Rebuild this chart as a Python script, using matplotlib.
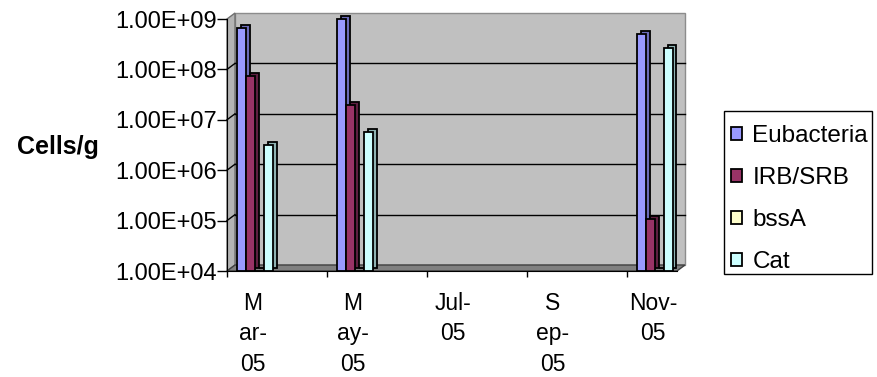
import matplotlib
matplotlib.use('Agg')
import matplotlib.pyplot as plt
import matplotlib.patches as mpatches
from matplotlib.transforms import offset_copy
import numpy as np

plt.rcParams['font.family'] = ['Liberation Sans', 'DejaVu Sans']

# sampling months and measured abundances (cells per gram)
months = ['M\nar-\n05', 'M\nay-\n05', 'Jul-\n05', 'S\nep-\n05', 'Nov-\n05']
eubacteria = [6.5e8, 1.0e9, np.nan, np.nan, 5.0e8]
irb_srb = [7.5e7, 2.0e7, np.nan, np.nan, 1.1e5]
bssa = [1.0e4, 1.0e4, np.nan, np.nan, 1.0e4]
cat = [3.2e6, 5.8e6, np.nan, np.nan, 2.6e8]

series = [('Eubacteria', eubacteria), ('IRB/SRB', irb_srb),
          ('bssA', bssa), ('Cat', cat)]
front_cols = ['#9999FF', '#993366', '#FFFFCC', '#CCFFFF']
side_cols = ['#6B6BB8', '#5E1F40', '#B3B38F', '#8FB3B3']

y_ticks = [1e4, 1e5, 1e6, 1e7, 1e8, 1e9]
y_labels = ['1.00E+04', '1.00E+05', '1.00E+06', '1.00E+07', '1.00E+08', '1.00E+09']

ymin, ymax = 1e4, 1e9
xmax = 4.5
fs = 16.5

fig = plt.figure(figsize=(8.77, 3.77), dpi=100)
ax = fig.add_axes([227/877, 106/377, 450/877, 252/377])
ax.set_yscale('log')
ax.set_xlim(0, xmax)
ax.set_ylim(ymin, ymax)

# depth of the chart box and of each bar, in pixels
wdx, wdy = 8, 6
bdx, bdy = 3.5, 3
wall = offset_copy(ax.transData, fig=fig, x=wdx, y=wdy, units='dots')
bar_back = offset_copy(ax.transData, fig=fig, x=bdx, y=bdy, units='dots')


def shift(x, y, dx, dy):
    px, py = ax.transData.transform((x, y))
    return ax.transData.inverted().transform((px + dx, py + dy))


# back wall, side wall and floor
ax.add_patch(mpatches.Rectangle((0, ymin), xmax, ymax - ymin, transform=wall,
                                facecolor='#C0C0C0', edgecolor='#8C8C8C',
                                lw=1, zorder=0, clip_on=False))
side = [(0, ymin), (0, ymax), shift(0, ymax, wdx, wdy), shift(0, ymin, wdx, wdy)]
ax.add_patch(mpatches.Polygon(side, closed=True, facecolor='#B4B4B4',
                              edgecolor='#707070', lw=1, zorder=0.5,
                              clip_on=False))
floor = [(0, ymin), (xmax, ymin), shift(xmax, ymin, wdx, wdy), shift(0, ymin, wdx, wdy)]
ax.add_patch(mpatches.Polygon(floor, closed=True, facecolor='#808080',
                              edgecolor='#404040', lw=1, zorder=0.5,
                              clip_on=False))

# gridlines on the back wall and on the side wall
for v in y_ticks[1:-1]:
    ax.plot([0, xmax], [v, v], color='black', lw=1, transform=wall,
            zorder=0.6, clip_on=False)
    b = shift(0, v, wdx, wdy)
    ax.plot([0, b[0]], [v, b[1]], color='black', lw=1, zorder=0.6,
            clip_on=False)

# bars: an offset darker copy behind each front face gives the 3D depth
x = np.arange(len(months))
bw = 0.09
for k, (name, vals) in enumerate(series):
    vals = np.array(vals)
    xpos = x + 0.10 + bw * k
    ax.bar(xpos, vals - ymin, bottom=ymin, width=bw, align='edge',
           color=side_cols[k], edgecolor='black', lw=1.3,
           transform=bar_back, zorder=2 + 2 * k, clip_on=False)
    ax.bar(xpos, vals - ymin, bottom=ymin, width=bw, align='edge',
           color=front_cols[k], edgecolor='black', lw=1.3,
           zorder=3 + 2 * k, label=name, clip_on=False)

ax.set_xlim(0, xmax)
ax.set_ylim(ymin, ymax)

for s in ['top', 'right']:
    ax.spines[s].set_visible(False)
ax.spines['left'].set_zorder(20)
ax.spines['bottom'].set_zorder(20)

ax.set_yticks(y_ticks)
ax.set_yticklabels(y_labels, fontsize=17)
ax.yaxis.set_minor_locator(matplotlib.ticker.NullLocator())
ax.tick_params(axis='y', length=7, width=1, pad=0.5)

ax.set_xticks(x + 0.26)
ax.set_xticklabels(months, fontsize=fs, linespacing=1.42)
ax.set_xticks(x, minor=True)
ax.tick_params(axis='x', which='major', length=0, pad=15)
ax.tick_params(axis='x', which='minor', length=4.5, width=1)

fig.text(58/877, 1 - 147/377, 'Cells/g', fontsize=18, fontweight='bold',
         ha='center', va='center')

# legend box drawn separately so it hugs the longest label
fig.add_artist(mpatches.Rectangle((724/877, 1 - 274/377), 148/877, 163/377,
                                  transform=fig.transFigure, facecolor='white',
                                  edgecolor='black', lw=1))
handles = [mpatches.Patch(facecolor=c, edgecolor='black', lw=1.3, label=n)
           for (n, _), c in zip(series, front_cols)]
fig.legend(handles=handles, loc='upper left',
           bbox_to_anchor=(724/877, 1 - 118/377), borderaxespad=0,
           fontsize=17.5, frameon=False, handlelength=0.42, handleheight=0.42,
           handletextpad=0.45, labelspacing=0.82, borderpad=0.3)

fig.savefig('out.png', dpi=100, facecolor='white')
